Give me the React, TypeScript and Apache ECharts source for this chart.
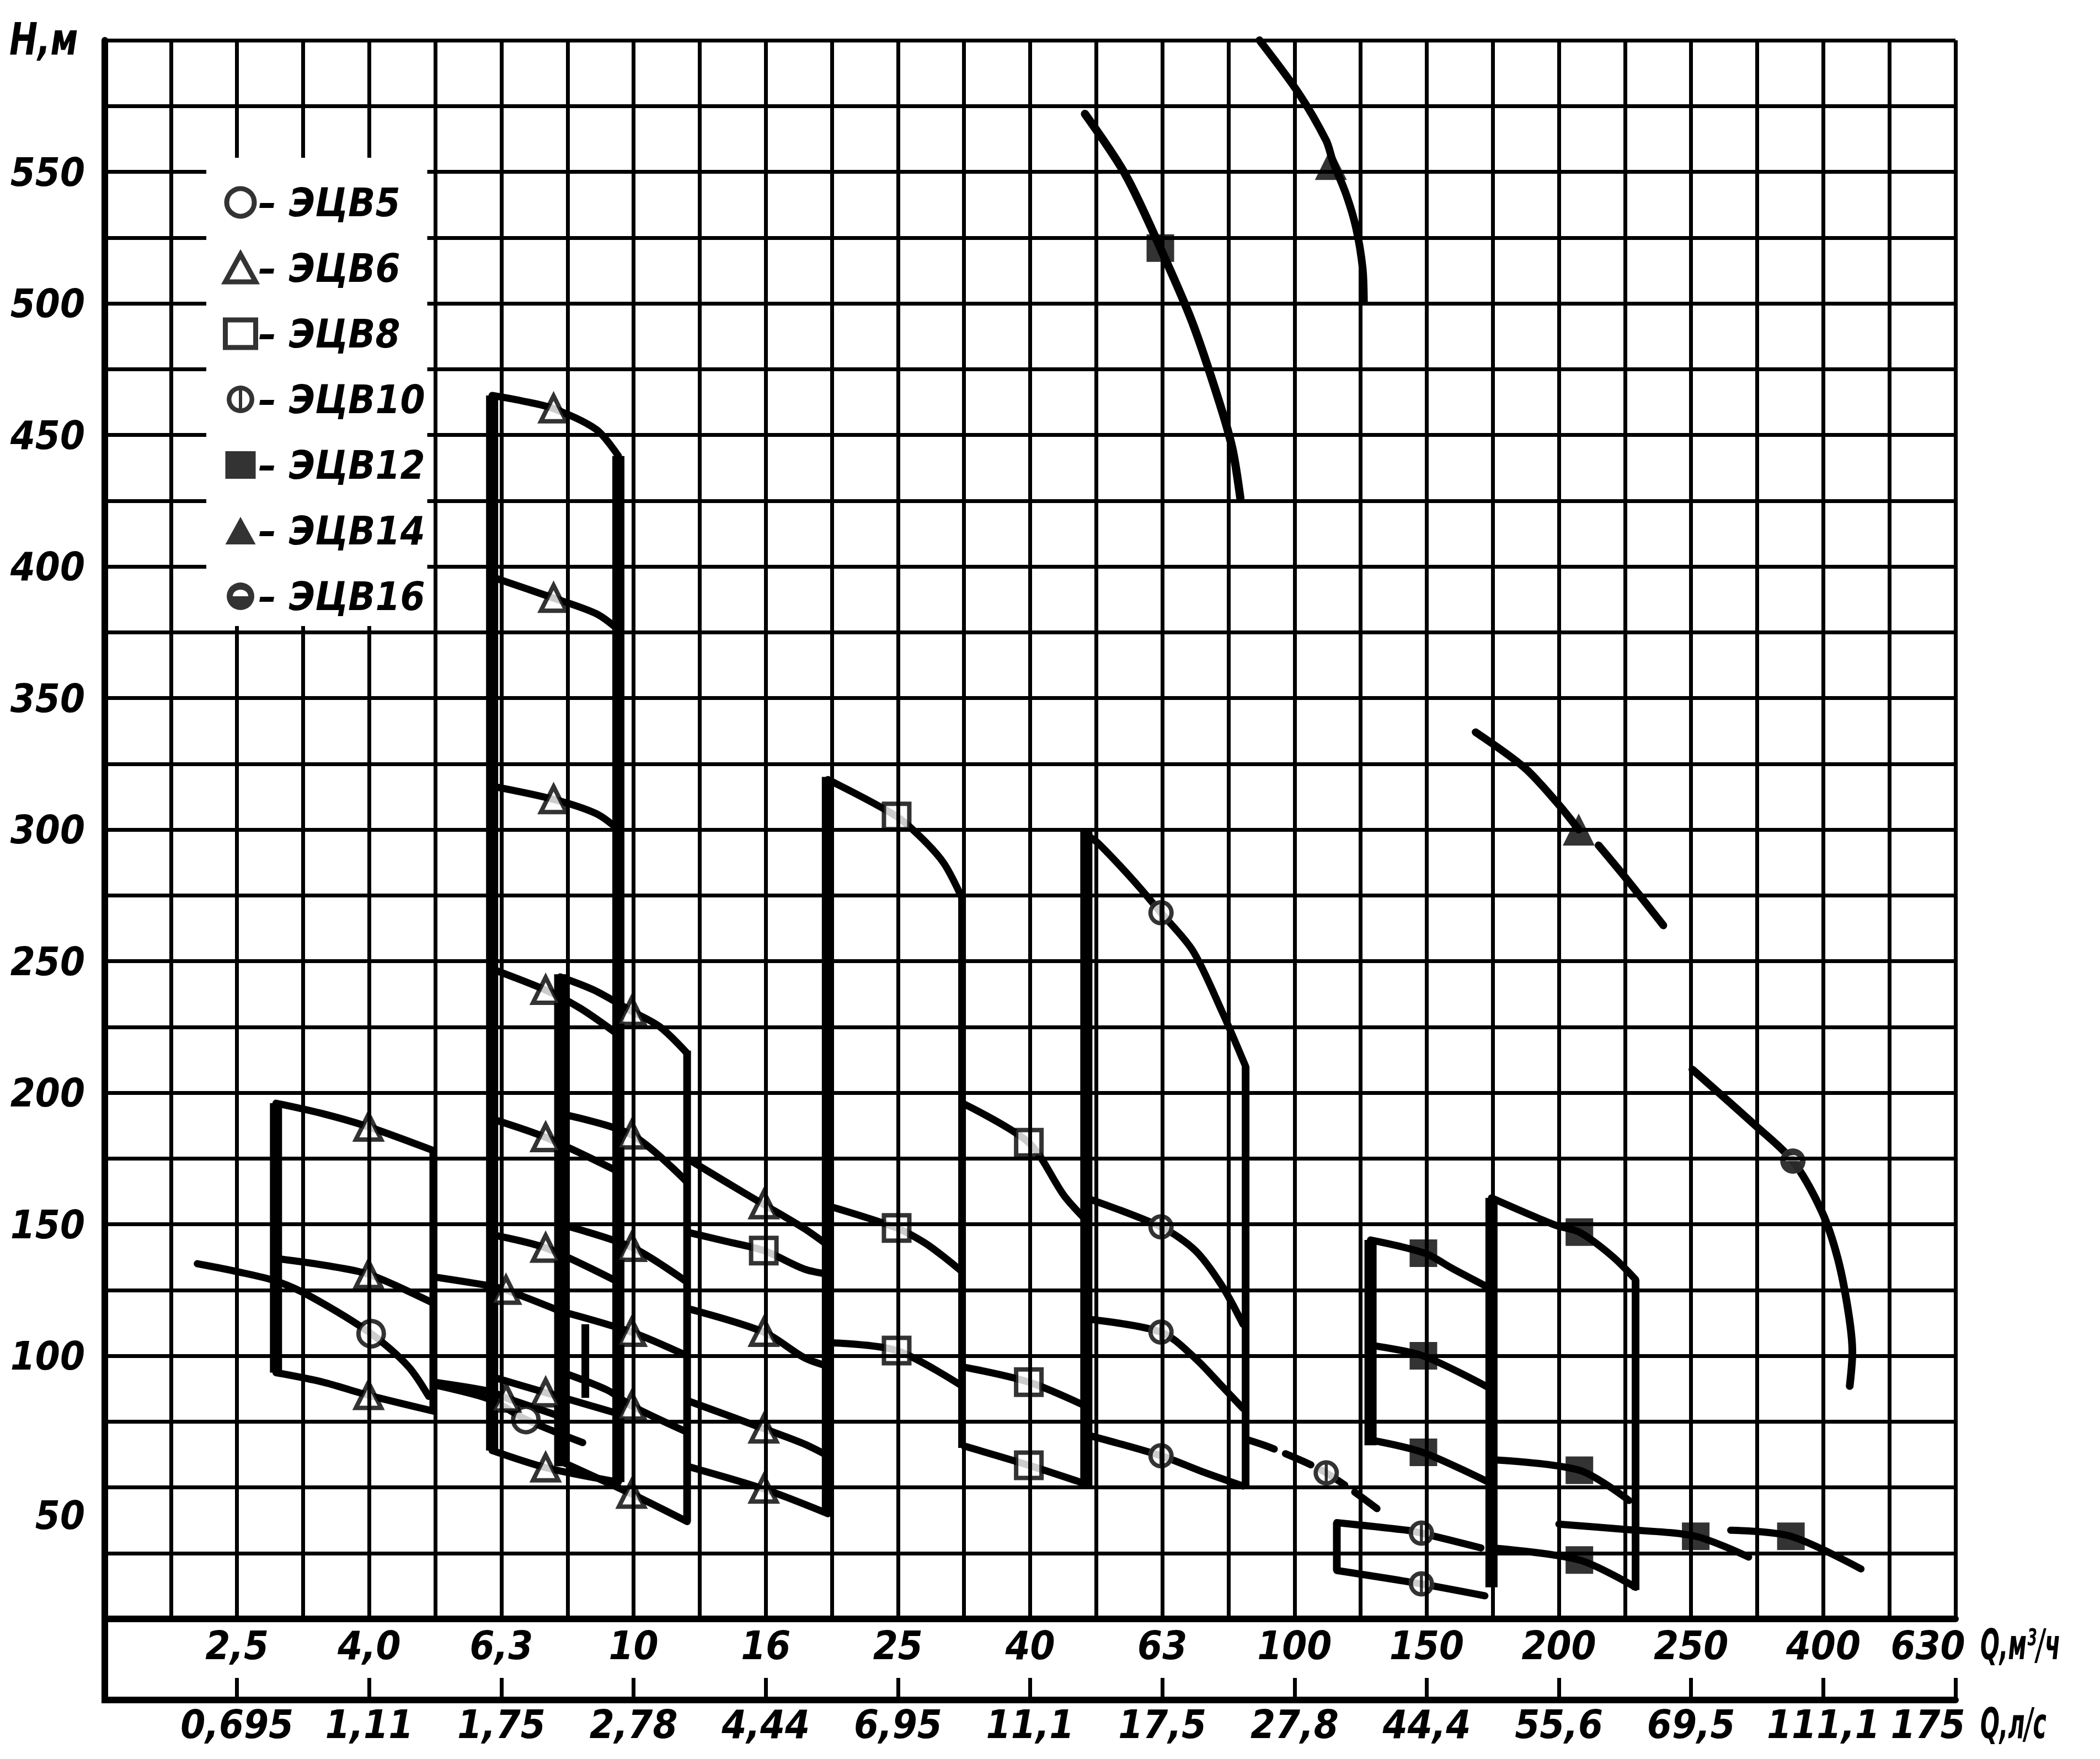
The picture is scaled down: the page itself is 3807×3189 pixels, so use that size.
import React, { useEffect, useRef } from 'react';
import * as echarts from 'echarts';

const FONT = "'Liberation Sans Narrow', 'DejaVu Sans Condensed', 'Liberation Sans', 'DejaVu Sans', sans-serif";

// ---- axis data ----
// grid columns u = 0..28; labels sit on every second column (u = 2, 4, ... 28)
const colMin = 0;
const colMax = 28;
const flowM3h = ['2,5', '4,0', '6,3', '10', '16', '25', '40', '63', '100', '150', '200', '250', '400', '630'];
const flowLs = ['0,695', '1,11', '1,75', '2,78', '4,44', '6,95', '11,1', '17,5', '27,8', '44,4', '55,6', '69,5', '111,1', '175'];
const headMin = 0;
const headMax = 600;
const headStep = 25;

// ---- ЭЦВ5 ----
const e5Curves = [
  [[1.4, 135], [2.0, 132], [2.59, 128.4], [3.11, 122.6], [4.03, 108.4], [4.59, 96], [4.9, 84.6]],
  [[4.97, 89], [5.82, 83.5], [6.37, 75.8], [7.23, 67]],
];
const e5Marks = [[4.03, 108.4], [6.37, 75.8]];

// ---- ЭЦВ6 ----
const e6FieldA = [
  [[2.59, 196], [3.3, 192], [3.99, 187], [4.97, 178]],
  [[2.59, 137], [3.3, 134.5], [3.99, 131], [4.97, 120]],
  [[2.59, 93.6], [3.3, 90], [3.99, 85], [4.97, 79]],
];
const e6FieldB = [
  [[4.97, 130], [5.82, 126.6], [6.07, 125], [6.89, 117]],
  [[4.97, 90], [5.82, 86.5], [6.07, 84], [6.89, 77]],
];
const e6FieldC = [
  [[5.86, 465], [6.3, 463], [6.79, 460], [7.44, 452], [7.77, 442]],
  [[5.86, 396], [6.79, 388], [7.44, 382], [7.77, 376]],
  [[5.86, 316.5], [6.79, 311.5], [7.44, 306], [7.77, 300]],
  [[5.86, 247], [6.67, 239], [7.2, 232], [7.77, 222]],
  [[5.86, 190], [6.67, 183], [7.77, 170]],
  [[5.86, 146], [6.67, 141], [7.77, 128]],
  [[5.86, 92], [6.67, 86], [7.77, 78]],
  [[5.86, 64], [6.67, 57.5], [7.77, 52]],
];
const e6FieldD = [
  [[6.89, 244], [7.4, 239], [7.97, 231], [8.4, 225], [8.81, 215]],
  [[6.89, 192], [7.97, 184], [8.81, 166]],
  [[6.89, 150], [7.97, 141.3], [8.81, 128]],
  [[6.89, 117], [7.97, 109], [8.81, 100]],
  [[6.89, 94], [7.6, 87], [7.97, 81], [8.81, 71]],
  [[6.89, 60], [7.97, 47.5], [8.81, 37]],
];
const e6FieldE = [
  [[8.81, 175], [9.4, 166], [9.97, 157.5], [10.58, 148.4], [10.94, 142]],
  [[8.81, 118], [9.97, 109], [10.58, 99.3], [10.94, 96]],
  [[8.81, 83], [9.97, 72.3], [10.58, 66.5], [10.94, 62]],
  [[8.81, 58], [9.97, 49.4], [10.94, 40]],
];
const e6Marks = [
  [3.99, 187], [3.99, 131], [3.99, 85],
  [6.07, 125], [6.07, 84],
  [6.79, 460], [6.79, 388], [6.79, 311.5], [6.67, 239], [6.67, 183], [6.67, 141], [6.67, 86], [6.67, 57.5],
  [7.97, 231], [7.97, 184], [7.97, 141.3], [7.97, 109], [7.97, 81], [7.97, 47.5],
  [9.97, 157.5], [9.97, 109], [9.97, 72.3], [9.97, 49.4],
];

// ---- ЭЦВ8 ----
const e8Field16 = [[[8.81, 147], [9.4, 143.5], [9.97, 140], [10.58, 133], [10.94, 131]]];
const e8Field25 = [
  [[10.94, 319], [11.98, 305], [12.39, 296], [12.7, 287], [12.97, 274]],
  [[10.94, 157], [11.98, 148.6], [12.4, 143], [12.7, 137.5], [12.97, 132]],
  [[10.94, 105], [11.98, 102], [12.97, 88.5]],
];
const e8Field40 = [
  [[13.0, 195.7], [13.98, 181], [14.51, 161], [14.83, 152]],
  [[13.0, 95.7], [13.98, 90], [14.83, 81]],
  [[13.0, 65.7], [13.98, 58.4], [14.83, 51.4]],
];
const e8Marks = [[9.97, 140], [11.98, 305], [11.98, 148.6], [11.98, 102], [13.98, 181], [13.98, 90], [13.98, 58.4]];

// ---- ЭЦВ10 ----
const e10Field63 = [
  [[14.85, 298], [15.03, 294.8], [15.55, 281], [15.98, 268.4], [16.46, 254], [16.9, 231], [17.26, 210]],
  [[14.85, 160], [15.98, 149], [16.5, 140], [16.9, 126.7], [17.22, 112]],
  [[14.85, 114], [15.98, 109], [16.5, 99], [16.9, 88.5], [17.22, 80]],
  [[14.85, 70], [15.98, 62], [16.6, 56], [17.22, 50.5]],
];
const e10Tail = [[[17.3, 68], [17.67, 64.8], [18.48, 55.5], [19.38, 39.4]]];
const e10Field150 = [
  [[18.64, 36.6], [19.7, 33.7], [19.92, 32.6], [20.82, 27]],
  [[18.64, 18.4], [19.92, 13.3], [20.88, 8.8]],
];
const e10Marks = [[15.98, 268.4], [15.98, 149], [15.98, 109], [15.98, 62], [18.48, 55.5], [19.92, 32.6], [19.92, 13.3]];

// ---- ЭЦВ12 ----
const e12Top = [[[14.83, 572], [15.44, 549], [15.97, 521], [16.45, 493], [16.86, 462.6], [17.06, 444.8], [17.18, 426]]];
const e12Field150 = [
  [[19.15, 144], [19.97, 139], [20.4, 133], [20.93, 126]],
  [[19.15, 104], [19.94, 100], [20.93, 88]],
  [[19.15, 68], [19.94, 63.3], [20.93, 52]],
];
const e12Field200 = [
  [[20.98, 160], [21.94, 149.7], [22.31, 147], [22.8, 138], [23.16, 129]],
  [[20.98, 60.5], [22.31, 56.5], [23.06, 45]],
  [[20.98, 27], [22.31, 22.4], [23.16, 12]],
];
const e12Right = [
  [[22.0, 36], [23.0, 34], [24.07, 31.4], [24.87, 23.5]],
  [[24.6, 33.7], [25.51, 31.4], [26.57, 19]],
];
const e12Marks = [[15.97, 521], [19.95, 139], [19.95, 100], [19.95, 63.3], [22.31, 147], [22.31, 56.5], [22.31, 22.4], [24.07, 31.4], [25.51, 31.4]];

// ---- ЭЦВ14 ----
const e14Curves = [
  [[17.47, 600], [18.07, 579.6], [18.48, 561.8], [18.58, 554], [18.78, 541.5], [18.93, 528.8], [19.03, 513.5], [19.05, 500.8]],
  [[20.74, 337], [21.48, 323.5], [21.98, 310], [22.3, 300]],
  [[22.6, 294], [23.03, 281], [23.58, 263.6]],
];
const e14Marks = [[18.55, 553], [22.3, 300]];

// ---- ЭЦВ16 ----
const e16Curves = [[[24.02, 208.8], [24.96, 187.8], [25.54, 174], [25.98, 154.7], [26.22, 136.9], [26.38, 116.5], [26.44, 101.3], [26.4, 88.5]]];
const e16Marks = [[25.54, 174]];

// ---- field boundaries: [u, lower head, upper head] ----
const boldEdges = [[2.59, 93.6, 196], [5.86, 64, 465], [6.89, 58, 245], [7.77, 52, 442], [10.94, 40, 320], [14.85, 50, 300], [19.15, 66, 144], [20.98, 12, 160]];
const thinEdges = [[4.97, 79, 178], [7.27, 84, 112], [8.81, 37, 216], [12.97, 65, 274], [17.26, 50, 210], [18.64, 18.4, 36.6], [23.16, 11, 129]];

const SYM_E10 = 'path://M50,0A50,50 0 1,1 50,100A50,50 0 1,1 50,0Z M50,17A33,33 0 1,0 50,83A33,33 0 1,0 50,17Z M44,17L56,17L56,83L44,83Z';
const SYM_E16 = 'path://M50,0A50,50 0 1,1 50,100A50,50 0 1,1 50,0Z M22,50L78,50A28,24 0 0,0 22,50Z';

const hollow = { color: '#fff', borderColor: '#000', borderWidth: 8 };
const solid = { color: '#000', borderWidth: 0 };

function curveSeries(curves: number[][][], width: number, dash?: number[]) {
  return curves.map((c) => ({
    type: 'line',
    data: c,
    symbol: 'none',
    smooth: 0.3,
    silent: true,
    z: 2,
    lineStyle: { color: '#000', width, type: dash || 'solid', cap: 'round', join: 'round' },
  }));
}

function edgeSeries(edges: number[][], width: number) {
  return edges.map(([u, lo, hi]) => ({
    type: 'line',
    data: [[u, lo], [u, hi]],
    symbol: 'none',
    silent: true,
    z: 2,
    lineStyle: { color: '#000', width, cap: 'butt' },
  }));
}

function markSeries(name: string | undefined, data: number[][], symbol: string, style: any, z = 4, size = 46) {
  return {
    type: 'scatter',
    name,
    data,
    symbol,
    symbolSize: size,
    symbolKeepAspect: true,
    silent: true,
    z,
    itemStyle: style,
  };
}

const textBase = { fontSize: 72, fontStyle: 'italic', fontWeight: 'bold', fontFamily: FONT, color: '#000' };

export default function App() {
  const ref = useRef<HTMLDivElement>(null);

  useEffect(() => {
    if (!ref.current) return;
    const chart = echarts.init(ref.current, undefined, { renderer: 'svg' });

    const series: any[] = [
      ...curveSeries(e5Curves, 13),
      ...curveSeries(e6FieldA, 13),
      ...curveSeries(e6FieldB, 13),
      ...curveSeries(e6FieldC, 13),
      ...curveSeries(e6FieldD, 13),
      ...curveSeries(e6FieldE, 13),
      ...curveSeries(e8Field16, 13),
      ...curveSeries(e8Field25, 13),
      ...curveSeries(e8Field40, 13),
      ...curveSeries(e10Field63, 13),
      ...curveSeries(e10Tail, 13, [50, 22]),
      ...curveSeries(e10Field150, 13),
      ...curveSeries(e12Top, 15),
      ...curveSeries(e12Field150, 13),
      ...curveSeries(e12Field200, 13),
      ...curveSeries(e12Right, 13),
      ...curveSeries(e14Curves, 14),
      ...curveSeries(e16Curves, 14),
      ...edgeSeries(boldEdges, 22),
      ...edgeSeries(thinEdges, 14),
      markSeries('ЭЦВ5', e5Marks, 'circle', hollow),
      markSeries('ЭЦВ6', e6Marks, 'triangle', hollow),
      markSeries('ЭЦВ8', e8Marks, 'rect', hollow),
      markSeries(undefined, e10Marks, 'circle', { color: '#fff', borderWidth: 0 }, 3),
      markSeries('ЭЦВ10', e10Marks, SYM_E10, solid),
      markSeries('ЭЦВ12', e12Marks, 'rect', solid, 4, 50),
      markSeries('ЭЦВ14', e14Marks, 'triangle', solid, 4, 58),
      markSeries(undefined, e16Marks, 'circle', { color: '#fff', borderWidth: 0 }, 3),
      markSeries('ЭЦВ16', e16Marks, SYM_E16, solid),
    ];

    const legendHollow = { color: '#fff', borderColor: '#000', borderWidth: 9 };
    const legendSolid = { color: '#000', borderWidth: 0 };

    const option: any = {
      animation: false,
      backgroundColor: '#fff',
      grid: { left: 190, right: 262, top: 73, bottom: 254, containLabel: false },
      xAxis: [
        {
          type: 'value',
          min: colMin,
          max: colMax,
          interval: 1,
          position: 'bottom',
          z: 5,
          axisLine: { show: true, onZero: false, lineStyle: { color: '#000', width: 12 } },
          axisTick: { show: false },
          splitLine: { show: true, lineStyle: { color: '#000', width: 7 } },
          axisLabel: {
            show: true,
            margin: 12,
            showMinLabel: true,
            showMaxLabel: true,
            ...textBase,
            formatter: (v: number) => {
              const u = Math.round(v);
              if (u < 2 || u % 2 !== 0) return '';
              const s = flowM3h[u / 2 - 1];
              return u === colMax ? `{end|${s}}` : s;
            },
            rich: { end: { ...textBase, padding: [0, 100, 0, 0] } },
          },
        },
        {
          type: 'value',
          min: colMin,
          max: colMax,
          interval: 2,
          position: 'bottom',
          offset: 147,
          z: 5,
          axisLine: { show: true, onZero: false, lineStyle: { color: '#000', width: 12 } },
          axisTick: { show: true, inside: true, length: 40, lineStyle: { color: '#000', width: 7 } },
          splitLine: { show: false },
          axisLabel: {
            show: true,
            margin: 8,
            showMinLabel: true,
            showMaxLabel: true,
            ...textBase,
            formatter: (v: number) => {
              const u = Math.round(v);
              if (u < 2) return '';
              const s = flowLs[u / 2 - 1];
              return u === colMax ? `{end|${s}}` : s;
            },
            rich: { end: { ...textBase, padding: [0, 100, 0, 0] } },
          },
        },
      ],
      yAxis: {
        type: 'value',
        min: headMin,
        max: headMax,
        interval: headStep,
        z: 5,
        axisLine: { show: true, lineStyle: { color: '#000', width: 12 } },
        axisTick: { show: false },
        splitLine: { show: true, lineStyle: { color: '#000', width: 7 } },
        axisLabel: {
          show: true,
          margin: 36,
          ...textBase,
          formatter: (v: number) => {
            if (v <= 0 || v >= 600 || v % 50 !== 0) return '';
            if (v === 50) return '{low|50}';
            return String(v);
          },
          rich: { low: { ...textBase, padding: [100, 0, 0, 0] } },
        },
      },
      legend: {
        orient: 'vertical',
        left: 374,
        top: 286,
        padding: [31, 4, 4, 30],
        itemGap: 19,
        itemWidth: 55,
        itemHeight: 50,
        backgroundColor: '#fff',
        z: 20,
        selectedMode: false,
        formatter: (n: string) => '– ' + n,
        textStyle: { ...textBase, fontSize: 72, lineHeight: 100 },
        data: [
          { name: 'ЭЦВ5', icon: 'circle', itemStyle: legendHollow },
          { name: 'ЭЦВ6', icon: 'triangle', itemStyle: legendHollow },
          { name: 'ЭЦВ8', icon: 'rect', itemStyle: legendHollow },
          { name: 'ЭЦВ10', icon: SYM_E10, itemStyle: legendSolid },
          { name: 'ЭЦВ12', icon: 'rect', itemStyle: legendSolid },
          { name: 'ЭЦВ14', icon: 'triangle', itemStyle: legendSolid },
          { name: 'ЭЦВ16', icon: SYM_E16, itemStyle: legendSolid },
        ],
      },
      graphic: [
        { type: 'line', shape: { x1: 190, y1: 2930, x2: 190, y2: 3088 }, style: { stroke: '#000', lineWidth: 12 }, z: 10 },
        { type: 'text', x: 17, y: 72, scaleX: 0.85, z: 10, style: { text: 'H,м', font: `italic bold 80px ${FONT}`, fill: '#000', verticalAlign: 'middle' } },
        { type: 'text', x: 3590, y: 2982, scaleX: 0.6, z: 10, style: { text: 'Q,м³/ч', font: `italic bold 76px ${FONT}`, fill: '#000', verticalAlign: 'middle' } },
        { type: 'text', x: 3590, y: 3125, scaleX: 0.6, z: 10, style: { text: 'Q,л/с', font: `italic bold 76px ${FONT}`, fill: '#000', verticalAlign: 'middle' } },
      ],
      series,
    };

    chart.setOption(option);
    return () => chart.dispose();
  }, []);

  return (
    <div
      ref={ref}
      style={{ position: 'absolute', left: 0, top: 0, width: 3807, height: 3189, background: '#fff' }}
    />
  );
}
